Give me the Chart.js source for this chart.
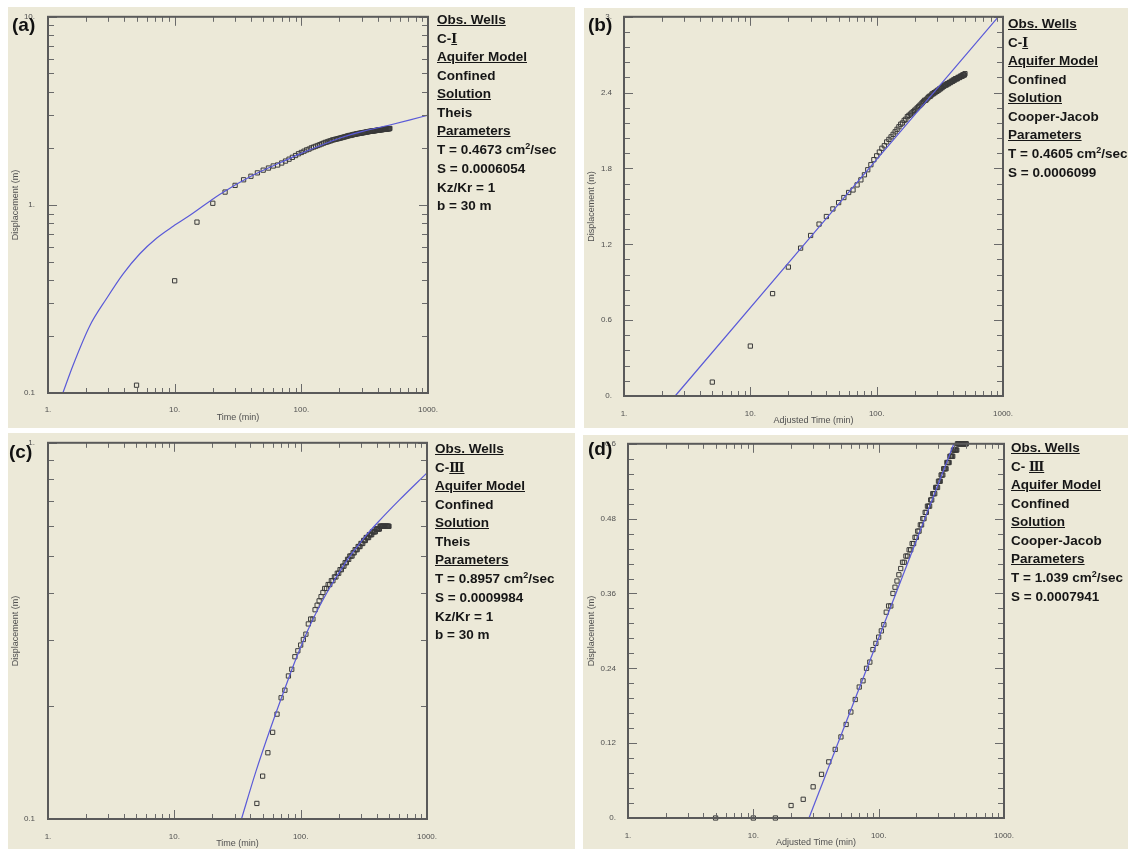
<!DOCTYPE html>
<html>
<head>
<meta charset="utf-8">
<title>Pumping test analysis</title>
<script src="https://cdn.jsdelivr.net/npm/chart.js@4.4.1/dist/chart.umd.min.js"></script>
<style>
  html, body { margin: 0; padding: 0; background: #fff; }
  body {
    width: 1133px; height: 849px; position: relative; overflow: hidden;
    font-family: "Liberation Sans", Arial, "Noto Sans CJK SC", sans-serif;
  }
  .panel { position: absolute; background: #ece9d8; }
  .panel canvas { position: absolute; left: 0; top: 0; }
  .tag { position: absolute; font-weight: bold; font-size: 19px; line-height: 20px; color: #111; }
  .info {
    position: absolute; font-weight: bold; font-size: 13.5px; line-height: 18.5px;
    color: #161616; white-space: nowrap;
  }
  .info u { text-decoration: underline; text-underline-offset: 1px; }
  .info .sup { font-size: 9px; position: relative; top: -5px; }
  .info .rn { font-family: "DejaVu Serif", "Noto Sans CJK SC", serif; font-size: 12.5px; text-decoration: underline; }
</style>
</head>
<body>

<div class="panel" style="left:8px;top:7px;width:567px;height:421px"><canvas id="chart-a" width="567" height="421"></canvas></div>
<div class="panel" style="left:584px;top:8px;width:544px;height:420px"><canvas id="chart-b" width="544" height="420"></canvas></div>
<div class="panel" style="left:8px;top:433px;width:567px;height:416px"><canvas id="chart-c" width="567" height="416"></canvas></div>
<div class="panel" style="left:583px;top:435px;width:545px;height:414px"><canvas id="chart-d" width="545" height="414"></canvas></div>

<div class="tag" style="left:12px;top:15px">(a)</div>
<div class="tag" style="left:588px;top:15px">(b)</div>
<div class="tag" style="left:9px;top:442px">(c)</div>
<div class="tag" style="left:588px;top:439px">(d)</div>

<div class="info" style="left:437px;top:11px">
  <u>Obs. Wells</u><br>C-<span class="rn">Ⅰ</span><br><u>Aquifer Model</u><br>Confined<br><u>Solution</u><br>Theis<br>
  <u>Parameters</u><br>T = 0.4673 cm<span class="sup">2</span>/sec<br>S = 0.0006054<br>Kz/Kr = 1<br>b = 30 m
</div>
<div class="info" style="left:1008px;top:15px">
  <u>Obs. Wells</u><br>C-<span class="rn">Ⅰ</span><br><u>Aquifer Model</u><br>Confined<br><u>Solution</u><br>Cooper-Jacob<br>
  <u>Parameters</u><br>T = 0.4605 cm<span class="sup">2</span>/sec<br>S = 0.0006099
</div>
<div class="info" style="left:435px;top:440px">
  <u>Obs. Wells</u><br>C-<span class="rn">Ⅲ</span><br><u>Aquifer Model</u><br>Confined<br><u>Solution</u><br>Theis<br>
  <u>Parameters</u><br>T = 0.8957 cm<span class="sup">2</span>/sec<br>S = 0.0009984<br>Kz/Kr = 1<br>b = 30 m
</div>
<div class="info" style="left:1011px;top:439px">
  <u>Obs. Wells</u><br>C- <span class="rn">Ⅲ</span><br><u>Aquifer Model</u><br>Confined<br><u>Solution</u><br>Cooper-Jacob<br>
  <u>Parameters</u><br>T = 1.039 cm<span class="sup">2</span>/sec<br>S = 0.0007941
</div>

<script>
// Время наблюдений, мин
const TIME_MIN = [
  5, 10, 15, 20, 25, 30, 35, 40, 45, 50,
  55, 60, 65, 70, 75, 80, 85, 90, 95, 100,
  105, 110, 115, 120, 125, 130, 135, 140, 145, 150,
  155, 160, 165, 170, 175, 180, 185, 190, 195, 200,
  205, 210, 215, 220, 225, 230, 235, 240, 245, 250,
  255, 260, 265, 270, 275, 280, 285, 290, 295, 300,
  305, 310, 315, 320, 325, 330, 335, 340, 345, 350,
  355, 360, 365, 370, 375, 380, 385, 390, 395, 400,
  405, 410, 415, 420, 425, 430, 435, 440, 445, 450,
  455, 460, 465, 470, 475, 480, 485, 490, 495, 500
];

// Понижение в скважине C-I, м
const DRAWDOWN_C1 = [
  0.11, 0.395, 0.81, 1.02, 1.17, 1.27, 1.36, 1.42, 1.48, 1.53,
  1.57, 1.61, 1.63, 1.67, 1.71, 1.75, 1.79, 1.83, 1.87, 1.90,
  1.93, 1.96, 1.98, 2.01, 2.03, 2.05, 2.07, 2.09, 2.11, 2.13,
  2.15, 2.16, 2.18, 2.19, 2.21, 2.22, 2.23, 2.24, 2.25, 2.26,
  2.27, 2.28, 2.29, 2.30, 2.31, 2.32, 2.33, 2.34, 2.34, 2.35,
  2.36, 2.37, 2.37, 2.38, 2.39, 2.39, 2.40, 2.40, 2.41, 2.41,
  2.42, 2.42, 2.43, 2.43, 2.44, 2.44, 2.45, 2.45, 2.46, 2.46,
  2.46, 2.47, 2.47, 2.47, 2.48, 2.48, 2.48, 2.49, 2.49, 2.49,
  2.50, 2.50, 2.50, 2.51, 2.51, 2.51, 2.51, 2.52, 2.52, 2.52,
  2.52, 2.53, 2.53, 2.53, 2.53, 2.54, 2.54, 2.54, 2.54, 2.55
];

// Понижение в скважине C-III, м
const DRAWDOWN_C3 = [
  0, 0, 0, 0.02, 0.03, 0.05, 0.07, 0.09, 0.11, 0.13,
  0.15, 0.17, 0.19, 0.21, 0.22, 0.24, 0.25, 0.27, 0.28, 0.29,
  0.30, 0.31, 0.33, 0.34, 0.34, 0.36, 0.37, 0.38, 0.39, 0.40,
  0.41, 0.41, 0.42, 0.42, 0.43, 0.43, 0.44, 0.44, 0.45, 0.45,
  0.46, 0.46, 0.47, 0.47, 0.48, 0.48, 0.49, 0.49, 0.50, 0.50,
  0.50, 0.51, 0.51, 0.52, 0.52, 0.52, 0.53, 0.53, 0.53, 0.54,
  0.54, 0.54, 0.55, 0.55, 0.55, 0.56, 0.56, 0.56, 0.56, 0.57,
  0.57, 0.57, 0.57, 0.58, 0.58, 0.58, 0.58, 0.58, 0.59, 0.59,
  0.59, 0.59, 0.59, 0.59, 0.60, 0.60, 0.60, 0.60, 0.60, 0.60,
  0.60, 0.60, 0.60, 0.60, 0.60, 0.60, 0.60, 0.60, 0.60, 0.60
];

const THEIS_C1_TIME = [1.31, 1.58, 2.14, 2.9, 3.92, 5.31, 7.19, 9.73, 13.2, 22.8, 40, 70, 100, 200, 300, 500, 723, 1000];
const THEIS_C1_DRAWDOWN = [0.1, 0.141, 0.228, 0.318, 0.43, 0.55, 0.665, 0.77, 0.88, 1.14, 1.42, 1.69, 1.88, 2.26, 2.45, 2.66, 2.83, 3.0];
const JACOB_C1_TIME = [2.54, 917];
const JACOB_C1_DRAWDOWN = [0, 3];
const THEIS_C3_TIME = [34, 44, 58, 76, 92, 119, 165, 230, 276, 331, 409, 600, 1000];
const THEIS_C3_DRAWDOWN = [0.1, 0.133, 0.175, 0.225, 0.267, 0.328, 0.405, 0.484, 0.526, 0.568, 0.615, 0.703, 0.832];
const JACOB_C3_TIME = [27.8, 398];
const JACOB_C3_DRAWDOWN = [0, 0.6];

// Подписанные деления линейных осей
const Y_LABEL_STEP_B = 0.6;
const Y_LABEL_STEP_D = 0.12;

const FONT = "'Liberation Sans', Arial, sans-serif";
const AXIS_TEXT = '#505050';
const CURVE_COLOR = '#5a5ad8';

function fmt(v) {
  if (Math.abs(v - Math.round(v)) < 1e-9) return Math.round(v) + '.';
  return String(parseFloat(v.toFixed(3)));
}

function logTicks(min, max) {
  const out = [];
  for (let d = min; d < max * 0.999; d *= 10) {
    for (let k = 1; k <= 9; k++) out.push(parseFloat((k * d).toPrecision(6)));
  }
  out.push(max);
  return out;
}

function linearTicks(min, max, step) {
  const out = [];
  const n = Math.round((max - min) / step);
  for (let i = 0; i <= n; i++) out.push(Math.round((min + i * step) * 1e6) / 1e6);
  return out;
}

function isPow10(v) {
  const l = Math.log10(v);
  return Math.abs(l - Math.round(l)) < 1e-9;
}

function isMultiple(v, step) {
  const r = v / step;
  return Math.abs(r - Math.round(r)) < 1e-6;
}

// Рамка и внутренние засечки на всех четырёх сторонах
const frameTicks = {
  id: 'frameTicks',
  afterDatasetsDraw(chart) {
    const { ctx, chartArea: a, scales: { x, y } } = chart;
    ctx.save();
    ctx.strokeStyle = '#6a6a6a';
    ctx.lineWidth = 1;
    ctx.beginPath();
    x.ticks.forEach(t => {
      const px = Math.round(x.getPixelForValue(t.value)) + 0.5;
      const len = t.label ? 9 : 5;
      ctx.moveTo(px, a.bottom); ctx.lineTo(px, a.bottom - len);
      ctx.moveTo(px, a.top); ctx.lineTo(px, a.top + len);
    });
    y.ticks.forEach(t => {
      const py = Math.round(y.getPixelForValue(t.value)) + 0.5;
      const len = t.label ? 9 : 6;
      ctx.moveTo(a.left, py); ctx.lineTo(a.left + len, py);
      ctx.moveTo(a.right, py); ctx.lineTo(a.right - len, py);
    });
    ctx.stroke();
    ctx.strokeStyle = '#5a5a5a';
    ctx.lineWidth = 2;
    ctx.strokeRect(a.left, a.top, a.right - a.left, a.bottom - a.top);
    ctx.restore();
  }
};

function toPoints(xs, ys, logY) {
  return xs.map((t, i) => ({ x: t, y: (logY && !(ys[i] > 0)) ? null : ys[i] }));
}

function makePanel(p) {
  const [bx, by, bw, bh] = p.box;
  const [al, at, ar, ab] = p.area;
  const lh = 9 * 1.2;
  const logY = p.yType === 'logarithmic';

  new Chart(document.getElementById(p.canvas), {
    type: 'scatter',
    data: {
      datasets: [
        {
          data: toPoints(TIME_MIN, p.drawdown, logY),
          pointStyle: 'rect',
          pointRadius: 3,
          pointBorderWidth: 1,
          borderColor: '#3a3a3a',
          backgroundColor: 'rgba(255,255,255,0)',
          clip: 4,
          order: 2
        },
        {
          data: toPoints(p.curveT, p.curveS, logY),
          showLine: true,
          pointRadius: 0,
          borderColor: CURVE_COLOR,
          borderWidth: 1.2,
          cubicInterpolationMode: 'monotone',
          clip: 1,
          order: 1
        }
      ]
    },
    options: {
      responsive: false,
      animation: false,
      devicePixelRatio: 1,
      events: [],
      layout: { padding: { left: 0, top: at - by, right: bw - (ar - bx), bottom: 0 } },
      plugins: { legend: { display: false }, tooltip: { enabled: false } },
      scales: {
        x: {
          type: 'logarithmic',
          min: 1, max: 1000,
          afterBuildTicks: s => { s.ticks = logTicks(1, 1000).map(v => ({ value: v })); },
          afterFit: s => { s.height = bh - (ab - by); },
          grid: { display: false },
          border: { display: false },
          ticks: {
            autoSkip: false, maxRotation: 0,
            padding: p.xTickPad,
            color: AXIS_TEXT,
            font: { family: FONT, size: 8 },
            callback: v => isPow10(v) ? fmt(v) : ''
          },
          title: {
            display: true, text: p.xTitle, color: AXIS_TEXT,
            font: { family: FONT, size: 9 },
            padding: { top: 0, bottom: Math.max(0, (by + bh) - p.xTitleY - lh / 2) }
          }
        },
        y: {
          type: p.yType,
          min: p.yMin, max: p.yMax,
          afterBuildTicks: s => {
            const vals = logY ? logTicks(p.yMin, p.yMax) : linearTicks(p.yMin, p.yMax, p.yMinor);
            s.ticks = vals.map(v => ({ value: v }));
          },
          afterFit: s => { s.width = al - bx; },
          grid: { display: false },
          border: { display: false },
          ticks: {
            autoSkip: false,
            padding: p.yTickPad,
            color: AXIS_TEXT,
            font: { family: FONT, size: 8 },
            callback: v => (logY ? isPow10(v) : isMultiple(v, p.yLabelStep)) ? fmt(v) : ''
          },
          title: {
            display: true, text: 'Displacement (m)', color: AXIS_TEXT,
            font: { family: FONT, size: 9 },
            padding: { top: Math.max(0, p.yTitleX - bx - lh / 2), bottom: 0 }
          }
        }
      }
    },
    plugins: [frameTicks]
  });
}

window.addEventListener('DOMContentLoaded', () => {
  makePanel({
    canvas: 'chart-a', box: [8, 7, 567, 421], area: [48, 14, 428, 393],
    yType: 'logarithmic', yMin: 0.1, yMax: 10,
    drawdown: DRAWDOWN_C1, curveT: THEIS_C1_TIME, curveS: THEIS_C1_DRAWDOWN,
    xTitle: 'Time (min)', xTitleY: 418, yTitleX: 16, xTickPad: 4, yTickPad: 5
  });
  makePanel({
    canvas: 'chart-b', box: [584, 8, 544, 420], area: [624, 15, 1003, 396],
    yType: 'linear', yMin: 0, yMax: 3, yMinor: 0.12, yLabelStep: Y_LABEL_STEP_B,
    drawdown: DRAWDOWN_C1, curveT: JACOB_C1_TIME, curveS: JACOB_C1_DRAWDOWN,
    xTitle: 'Adjusted Time (min)', xTitleY: 421, yTitleX: 592, xTickPad: 4.5, yTickPad: 4
  });
  makePanel({
    canvas: 'chart-c', box: [8, 433, 567, 416], area: [48, 440, 427, 819],
    yType: 'logarithmic', yMin: 0.1, yMax: 1,
    drawdown: DRAWDOWN_C3, curveT: THEIS_C3_TIME, curveS: THEIS_C3_DRAWDOWN,
    xTitle: 'Time (min)', xTitleY: 844, yTitleX: 16, xTickPad: 5, yTickPad: 5
  });
  makePanel({
    canvas: 'chart-d', box: [583, 435, 545, 414], area: [628, 443, 1004, 818],
    yType: 'linear', yMin: 0, yMax: 0.6, yMinor: 0.024, yLabelStep: Y_LABEL_STEP_D,
    drawdown: DRAWDOWN_C3, curveT: JACOB_C3_TIME, curveS: JACOB_C3_DRAWDOWN,
    xTitle: 'Adjusted Time (min)', xTitleY: 843, yTitleX: 592, xTickPad: 5, yTickPad: 4
  });
});
</script>
</body>
</html>
